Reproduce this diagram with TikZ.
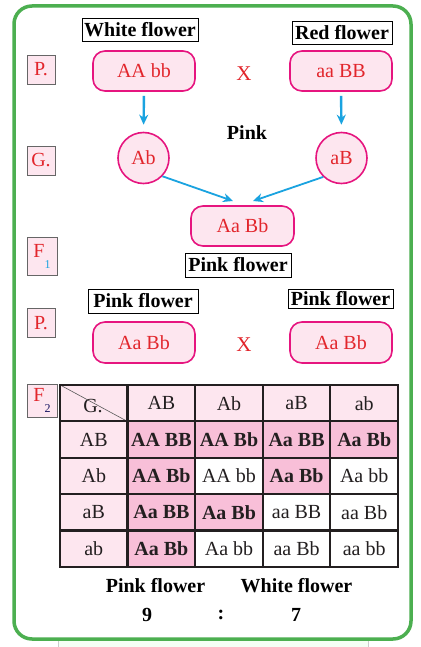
\documentclass[tikz,border=0pt]{standalone}
\usepackage{fontspec}
\setmainfont{Liberation Serif}
\usetikzlibrary{arrows.meta}
\definecolor{framegreen}{HTML}{4CAF50}
\definecolor{pinklight}{HTML}{FDE6EF}
\definecolor{pinkdark}{HTML}{F8BFD8}
\definecolor{magline}{HTML}{E6157F}
\definecolor{redtxt}{HTML}{E2262C}
\definecolor{cyanarr}{HTML}{1AA3E0}
\definecolor{inkdark}{HTML}{231F20}
\newcommand\fsreg{\fontsize{20}{22}\selectfont}
\newcommand\fsbold{\fontsize{20}{22}\selectfont\bfseries}
\tikzset{
  geno/.style={draw=magline, line width=1.6pt, fill=pinklight, rounded corners=12pt,
    minimum width=102pt, minimum height=40pt, inner sep=0pt, text=redtxt, font=\fsreg},
  gam/.style={circle, draw=magline, line width=1.6pt, fill=pinklight, minimum size=51pt,
    inner sep=0pt, text=redtxt, font=\fsreg},
  lbl/.style={draw=black, line width=0.8pt, fill=white, font=\fsbold, inner sep=0pt, text=black},
  tagbox/.style={draw=gray!80!black, line width=0.8pt, fill=pinklight, text=redtxt,
    font=\fsreg, inner sep=0pt, minimum width=28pt, minimum height=29pt},
  arr/.style={-{Stealth[length=10pt,width=9pt]}, draw=cyanarr, line width=2.4pt},
  arrd/.style={-{Stealth[length=10pt,width=9pt]}, draw=cyanarr, line width=1.8pt},
  cellb/.style={minimum width=67.6pt, minimum height=36.4pt, inner sep=0pt, text=inkdark},
  hcell/.style={cellb, fill=pinklight, font=\fsreg},
  dcell/.style={cellb, fill=pinkdark, font=\fsbold},
  wcell/.style={cellb, fill=white, font=\fsreg},
  plain/.style={font=\fsbold, text=black, inner sep=0pt},
  cross/.style={font=\fontsize{21}{22}\selectfont, text=redtxt, inner sep=0pt}
}
\begin{document}
\begin{tikzpicture}[x=1pt,y=-1pt]
\useasboundingbox (0,0) rectangle (420,647);
\fill[white] (0,0) rectangle (420,647);
% strip below the frame
\draw[gray!40, line width=0.8pt, fill=green!4] (58,630) rectangle (368,660);
% frame
\draw[framegreen, line width=3.5pt, fill=white, rounded corners=18pt] (14,6) rectangle (411,639);

% ---- first cross ----
\node[lbl, minimum width=116pt, minimum height=23pt] (wf) at (140,30) {White flower};
\node[lbl, minimum width=100pt, minimum height=23pt] (rf) at (342,32.5) {Red flower};
\node[tagbox] (p1) at (41,69.5) {P.};
\node[geno] (AAbb) at (144,71) {AA bb};
\node[geno] (aaBB) at (341,71) {aa BB};
\node[cross] (x1) at (244,74) {X};

\node[plain] (pink) at (247,133) {Pink};
\node[tagbox] (g1) at (41,160.5) {G.};
\node[gam] (Ab) at (143.5,158) {Ab};
\node[gam] (aB) at (341.5,158) {aB};
\draw[arr, shorten <=4pt, shorten >=7pt] (AAbb.south) -- (Ab.north);
\draw[arr, shorten <=4pt, shorten >=7pt] (aaBB.south) -- (aB.north);

\node[geno, minimum width=103pt] (AaBb) at (242.5,226) {Aa Bb};
\coordinate (m1) at (233,201);
\coordinate (m2) at (253,201);
\draw[arrd] (Ab.-44) -- (m1);
\draw[arrd] (aB.-134) -- (m2);

\node[tagbox, minimum width=30pt, minimum height=38pt] (f1) at (42,256.5) {F\raisebox{-1.2ex}{\textcolor{cyanarr}{\fontsize{12}{13}\selectfont 1}}};
\node[lbl, minimum width=106pt, minimum height=24pt] (pf1) at (238,265) {Pink flower};

% ---- second cross ----
\node[lbl, minimum width=110pt, minimum height=24pt] (pf2) at (143,301) {Pink flower};
\node[lbl, minimum width=105pt, minimum height=19pt] (pf3) at (340.5,299) {Pink flower};
\node[tagbox] (p2) at (41,323) {P.};
\node[geno, minimum height=41pt] (AaBb1) at (144,342.5) {Aa Bb};
\node[geno, minimum height=41pt] (AaBb2) at (341,342.5) {Aa Bb};
\node[cross] (x2) at (244,345) {X};

% ---- Punnett square ----
\node[tagbox, minimum width=30pt, minimum height=33pt] (f2) at (42,400.5) {F\raisebox{-1.2ex}{\textcolor{inkdark!70!blue}{\fontsize{12}{13}\selectfont 2}}};
\foreach \r/\c/\t/\s in {
  0/0/{}/hcell, 0/1/AB/hcell, 0/2/Ab/hcell, 0/3/aB/hcell, 0/4/ab/hcell,
  1/0/AB/hcell, 1/1/AA BB/dcell, 1/2/AA Bb/dcell, 1/3/Aa BB/dcell, 1/4/Aa Bb/dcell,
  2/0/Ab/hcell, 2/1/AA Bb/dcell, 2/2/AA bb/wcell, 2/3/Aa Bb/dcell, 2/4/Aa bb/wcell,
  3/0/aB/hcell, 3/1/Aa BB/dcell, 3/2/Aa Bb/dcell, 3/3/aa BB/wcell, 3/4/aa Bb/wcell,
  4/0/ab/hcell, 4/1/Aa Bb/dcell, 4/2/Aa bb/wcell, 4/3/aa Bb/wcell, 4/4/aa bb/wcell}
{
  \node[\s] (t\r\c) at ({60+67.6*(\c+0.5)},{385+36.4*(\r+0.5)}) {\t};
}
\node[font=\fsreg, text=inkdark, inner sep=0pt] (gl) at (93,406) {G.};
\draw[gray!70!black, line width=0.6pt] (t00.north west) -- (t00.south east);
\foreach \c in {1,2,3,4} {
  \draw[inkdark, line width=2.2pt] (t0\c.north west) -- (t4\c.south west);
}
\foreach \r in {1,2,3,4} {
  \draw[inkdark, line width=2.2pt] (t\r0.north west) -- (t\r4.north east);
}
\draw[inkdark, line width=2.2pt] (t00.north west) rectangle (t44.south east);

% ---- ratio ----
\node[plain] (rpink) at (155.5,586) {Pink flower};
\node[plain] (rwhite) at (296.5,586) {White flower};
\node[plain] (n9) at (147,615) {9};
\node[plain] (colon) at (221,615) {:};
\node[plain] (n7) at (296,615) {7};
\end{tikzpicture}
\end{document}
